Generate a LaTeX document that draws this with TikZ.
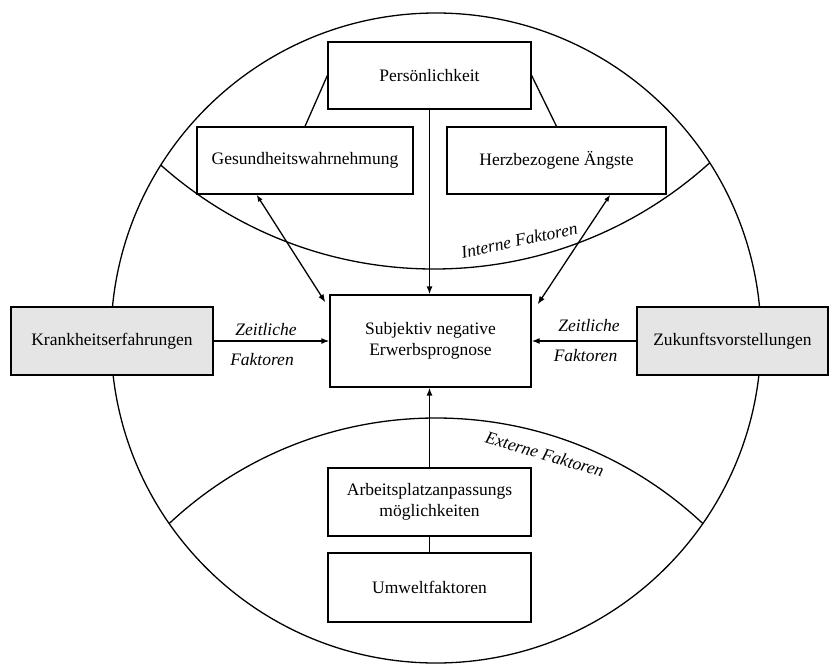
\documentclass[tikz,border=0pt]{standalone}
\usepackage{fontspec}
\setmainfont{Liberation Serif}
\usetikzlibrary{arrows.meta,calc}
\begin{document}
\begin{tikzpicture}[x=1pt,y=-1pt,
  every node/.style={font=\fontsize{17.5}{21}\selectfont},
  box/.style={draw,line width=1.3pt,inner sep=0pt,align=center,fill=white},
  gbox/.style={box,fill=black!10},
  lab/.style={font=\fontsize{17.5}{21}\selectfont\itshape,inner sep=0pt},
  conn/.style={line width=1.3pt},
  arr/.style={conn,-{Latex[length=8pt,width=6pt]}},
  darr/.style={conn,{Latex[length=7pt,width=5pt]}-{Latex[length=8pt,width=6pt]}},
]
\useasboundingbox (0,0) rectangle (829,664);
\fill[white] (0,0) rectangle (829,664);

% big circle and inner arcs
\coordinate (O) at (436,338);
\draw[conn] (O) circle[radius=325pt];
\begin{scope}
  \clip (O) circle[radius=325pt];
  \draw[conn] (434,-142) circle[radius=411pt];
  \draw[conn] (436,808) circle[radius=390pt];
\end{scope}

% boxes
\node[box,minimum width=203pt,minimum height=67pt] (pers) at (429.5,75.5) {Persönlichkeit};
\node[box,minimum width=216pt,minimum height=67pt] (ges) at (305,160.5) {Gesundheitswahrnehmung};
\node[box,minimum width=219pt,minimum height=67pt] (herz) at (556.5,160.5) {Herzbezogene Ängste};
\node[box,minimum width=201pt,minimum height=92pt] (subj) at (430.5,341) {Subjektiv negative\\Erwerbsprognose};
\node[gbox,minimum width=202pt,minimum height=68pt] (krank) at (112,341) {Krankheitserfahrungen};
\node[gbox,minimum width=191pt,minimum height=68pt] (zuk) at (732.5,341) {Zukunftsvorstellungen};
\node[box,minimum width=203pt,minimum height=68pt] (arb) at (429.5,502) {Arbeitsplatzanpassungs\\möglichkeiten};
\node[box,minimum width=203pt,minimum height=69pt] (umw) at (429.5,587.5) {Umweltfaktoren};

% connectors
\draw[conn] (pers.west) -- (ges.north);
\draw[conn] (pers.east) -- (herz.north);
\draw[arr] (pers.south) -- (pers.south |- subj.north);
\coordinate (g1) at ($(ges.south west)!0.277!(ges.south east)$);
\coordinate (g2) at ($(subj.north west)+(-4,8)$);
\draw[darr] (g1) -- (g2);
\coordinate (h1) at ($(herz.south west)!0.744!(herz.south east)$);
\coordinate (h2) at ($(subj.north east)+(6,10)$);
\draw[darr] (h1) -- (h2);
\draw[arr] (krank.east) -- (subj.west);
\draw[arr] (zuk.west) -- (subj.east);
\draw[arr] (arb.north) -- (arb.north |- subj.south);
\draw[conn] (arb.south) -- (umw.north);

% labels
\node[lab,anchor=base] (z1) at (266,335) {Zeitliche};
\node[lab,anchor=base] (f1) at (262,365) {Faktoren};
\node[lab,anchor=base] (z2) at (589,331) {Zeitliche};
\node[lab,anchor=base] (f2) at (585.5,361) {Faktoren};
\node[lab,anchor=base,rotate=12] (int) at (520.5,246) {Interne Faktoren};
\node[lab,anchor=base,rotate=-16.5] (ext) at (543,460) {Externe Faktoren};
\end{tikzpicture}
\end{document}
